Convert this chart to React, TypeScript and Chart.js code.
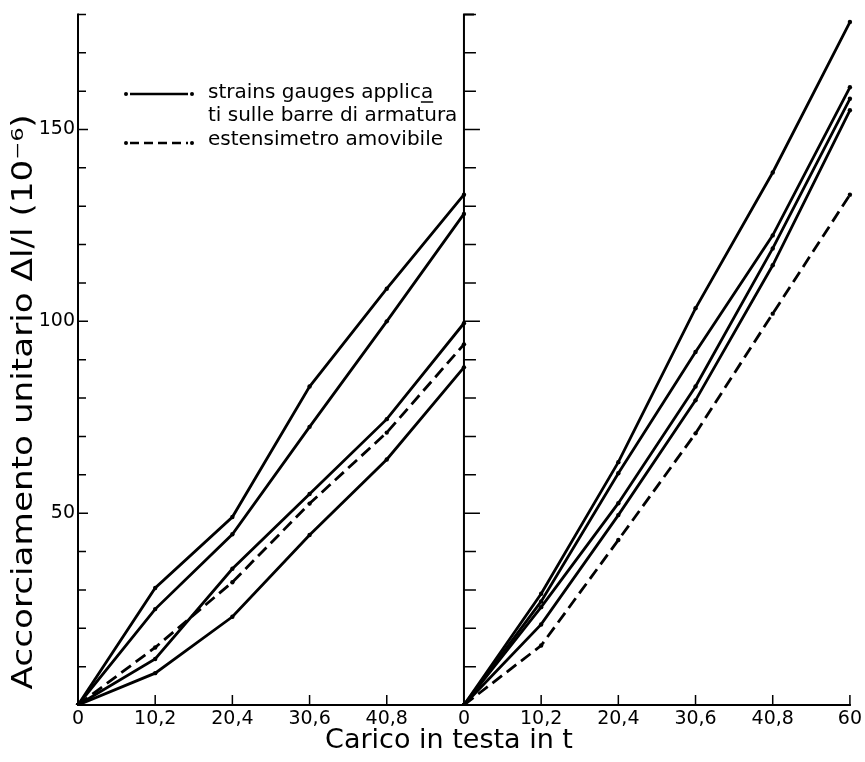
import React, { useEffect, useRef } from "react";
import { Chart, registerables } from "chart.js";

Chart.register(...registerables);

// ---- data ----
const loadLabels = ["0", "10,2", "20,4", "30,6", "40,8", "0", "10,2", "20,4", "30,6", "40,8", "60"];

// left panel (first specimen)
const leftGauge1 = [0, 30.5, 49, 83, 108.5, 133];
const leftGauge2 = [0, 25, 44.5, 72.5, 100, 128];
const leftGauge3 = [0, 12, 35.5, 55, 74.5, 99.5];
const leftGauge4 = [0, 8.3, 23, 44.3, 64, 88];
const leftExtenso = [0, 15, 32, 52.5, 71, 94];

// right panel (second specimen)
const rightGauge1 = [0, 29, 63.3, 103.4, 138.8, 178];
const rightGauge2 = [0, 27, 60.4, 92, 122.4, 161];
const rightGauge3 = [0, 25.5, 52.6, 83, 119, 158];
const rightGauge4 = [0, 21, 49.5, 79.4, 114.6, 155];
const rightExtenso = [0, 15.5, 43, 70.8, 102, 133];

const yMin = 0;
const yMax = 180;
const yStep = 10;
const yTickLabels = [50, 100, 150];

const xTitle = "Carico in testa in t";
const yTitle = "Accorciamento unitario \u0394l/l (10\u207B\u2076)";
const legendGaugeText = ["strains gauges applica", "ti sulle barre di armatura"];
const legendExtensoText = "estensimetro amovibile";

const FONT = "'DejaVu Sans', sans-serif";

const padLeft = (arr: number[]) => [...arr, ...Array(loadLabels.length - arr.length).fill(null)];
const padRight = (arr: number[]) => [...Array(loadLabels.length - arr.length).fill(null), ...arr];

const framePlugin = {
  id: "frame",
  beforeDatasetsDraw(chart: any) {
    const { ctx } = chart;
    const xs = chart.scales.x;
    const ys = chart.scales.y;
    const left = xs.getPixelForValue(0);
    const mid = xs.getPixelForValue(5);
    const right = xs.getPixelForValue(loadLabels.length - 1);
    const bottom = ys.getPixelForValue(yMin);
    const top = ys.getPixelForValue(yMax);
    ctx.save();
    ctx.strokeStyle = "#000";
    ctx.lineCap = "butt";
    ctx.lineWidth = 2;
    ctx.beginPath();
    ctx.moveTo(left, bottom + 1);
    ctx.lineTo(left, top - 1);
    ctx.moveTo(mid, bottom + 1);
    ctx.lineTo(mid, top - 1);
    ctx.moveTo(mid - 1, top);
    ctx.lineTo(mid + 10, top);
    ctx.moveTo(left - 1, bottom);
    ctx.lineTo(right + 1, bottom);
    ctx.stroke();
    ctx.lineWidth = 1.5;
    ctx.beginPath();
    ys.ticks.forEach((t: any) => {
      if (t.value <= yMin) return;
      const py = ys.getPixelForValue(t.value);
      const big = t.value % 50 === 0;
      ctx.moveTo(left, py);
      ctx.lineTo(left + (big ? 10 : 8), py);
      ctx.moveTo(mid, py);
      ctx.lineTo(mid + (big ? 16 : 12), py);
    });
    for (let i = 1; i < loadLabels.length; i++) {
      if (i === 5) continue;
      const px = xs.getPixelForValue(i);
      ctx.moveTo(px, bottom);
      ctx.lineTo(px, bottom - 10);
    }
    ctx.stroke();
    ctx.restore();
  },
};

const textPlugin = {
  id: "texts",
  afterDraw(chart: any) {
    const { ctx } = chart;
    ctx.save();
    ctx.fillStyle = "#000";
    ctx.strokeStyle = "#000";
    // axis titles
    ctx.font = `27px ${FONT}`;
    ctx.textAlign = "center";
    ctx.textBaseline = "middle";
    ctx.fillText(xTitle, 449, 741);
    ctx.save();
    ctx.translate(25, 402);
    ctx.rotate(-Math.PI / 2);
    ctx.font = `28px ${FONT}`;
    const natural = ctx.measureText(yTitle).width;
    ctx.scale(575 / natural, 1);
    ctx.fillText(yTitle, 0, 0);
    ctx.restore();

    // legend
    ctx.font = `20px ${FONT}`;
    ctx.textAlign = "left";
    ctx.textBaseline = "alphabetic";
    const tx = 208;
    ctx.fillText(legendGaugeText[0], tx, 98);
    // underline the last letter (old-style hyphenation mark)
    const w0 = ctx.measureText(legendGaugeText[0]).width;
    const wa = ctx.measureText("a").width;
    ctx.lineWidth = 1.5;
    ctx.beginPath();
    ctx.moveTo(tx + w0 - wa, 102);
    ctx.lineTo(tx + w0, 102);
    ctx.stroke();
    ctx.fillText(legendGaugeText[1], tx, 121);
    ctx.fillText(legendExtensoText, tx, 145);

    const drawSample = (y: number, dash: number[]) => {
      ctx.save();
      ctx.lineWidth = 2.5;
      ctx.setLineDash(dash);
      ctx.beginPath();
      ctx.moveTo(130, y);
      ctx.lineTo(188, y);
      ctx.stroke();
      ctx.restore();
      [126, 192].forEach((x) => {
        ctx.beginPath();
        ctx.arc(x, y, 2, 0, Math.PI * 2);
        ctx.fill();
      });
    };
    drawSample(94, []);
    drawSample(143, [9, 5]);
    ctx.restore();
  },
};

const lineDs = (data: (number | null)[], dashed = false) => ({
  data,
  borderColor: "#000",
  backgroundColor: "#000",
  borderWidth: 2.8,
  borderDash: dashed ? [12, 6] : [],
  pointRadius: 2.2,
  pointBorderWidth: 0,
  pointBackgroundColor: "#000",
  tension: 0,
  spanGaps: false,
  fill: false,
});

export default function App() {
  const ref = useRef<HTMLCanvasElement | null>(null);
  useEffect(() => {
    if (!ref.current) return;
    Chart.defaults.font.family = FONT;
    const chart = new Chart(ref.current, {
      type: "line",
      data: {
        labels: loadLabels,
        datasets: [
          lineDs(padLeft(leftGauge1)),
          lineDs(padLeft(leftGauge2)),
          lineDs(padLeft(leftGauge3)),
          lineDs(padLeft(leftGauge4)),
          lineDs(padLeft(leftExtenso), true),
          lineDs(padRight(rightGauge1)),
          lineDs(padRight(rightGauge2)),
          lineDs(padRight(rightGauge3)),
          lineDs(padRight(rightGauge4)),
          lineDs(padRight(rightExtenso), true),
        ],
      },
      options: {
        responsive: false,
        animation: false,
        devicePixelRatio: 1,
        layout: { padding: { top: 10, right: 12, left: 0, bottom: 0 } },
        plugins: { legend: { display: false }, tooltip: { enabled: false } },
        scales: {
          x: {
            type: "category",
            offset: false,
            grid: { display: false, drawTicks: false },
            border: { display: false },
            ticks: {
              color: "#000",
              font: { size: 19, family: FONT },
              autoSkip: false,
              maxRotation: 0,
              padding: 3,
            },
            afterFit: (s: any) => {
              s.height = 57;
            },
          },
          y: {
            type: "linear",
            min: yMin,
            max: yMax,
            grid: { display: false, drawTicks: false },
            border: { display: false },
            ticks: {
              stepSize: yStep,
              autoSkip: false,
              color: "#000",
              font: { size: 19, family: FONT },
              padding: 3,
              callback: (v: any) => (yTickLabels.includes(Number(v)) ? String(v) : ""),
            },
            afterFit: (s: any) => {
              s.width = 78;
            },
          },
        },
      },
      plugins: [framePlugin, textPlugin],
    });
    return () => chart.destroy();
  }, []);
  return (
    <div style={{ position: "fixed", left: 0, top: 0, width: 865, height: 762, background: "#fff" }}>
      <canvas ref={ref} width={865} height={762} />
    </div>
  );
}
